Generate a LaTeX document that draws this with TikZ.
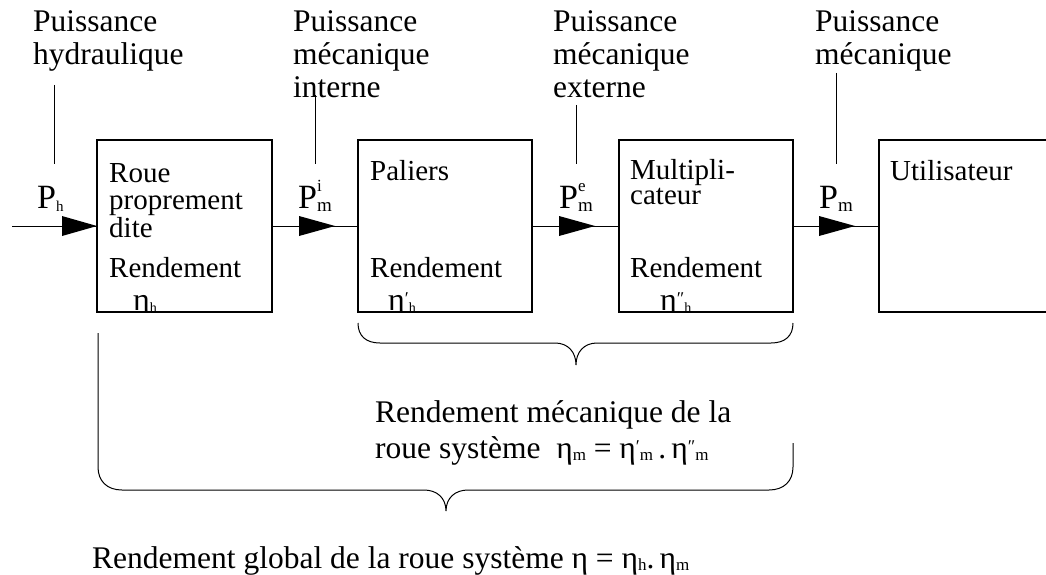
\documentclass[tikz,border=0pt]{standalone}
\usepackage{fontspec}
\setmainfont{Liberation Serif}
\usetikzlibrary{calc}
\newcommand\lsub[2][14]{\raisebox{-0.2ex}{\fontsize{#1}{#1}\selectfont #2}}
\newcommand\lsup[2][17]{\raisebox{1.05ex}{\fontsize{#1}{#1}\selectfont #2}}
\newcommand\lprime[2][18]{\raisebox{0.35ex}{\fontsize{#1}{#1}\selectfont #2}}
\begin{document}
\begin{tikzpicture}[x=1pt,y=-1pt,
  box/.style={draw,line width=1.2pt,minimum width=175pt,minimum height=172pt,inner sep=0pt,outer sep=0pt,anchor=north west},
  lbl/.style={anchor=base west,inner sep=0pt,font=\fontsize{31.5}{33}\selectfont},
  btxt/.style={anchor=base west,inner sep=0pt,font=\fontsize{29}{27.5}\selectfont},
  eta/.style={anchor=base west,inner sep=0pt,font=\fontsize{32}{32}\selectfont},
  plab/.style={anchor=base west,inner sep=0pt,font=\fontsize{34}{34}\selectfont},
  wire/.style={line width=1pt},
  head/.style={fill=black},
  brace/.style={line width=1pt},
]
\useasboundingbox (0,0) rectangle (1046,575);

% boxes
\node[box] (b1) at (97,140) {};
\node[box,minimum width=174pt] (b2) at (358,140) {};
\node[box,minimum width=174pt] (b3) at (619,140) {};
\node[anchor=north west,inner sep=0pt,outer sep=0pt,minimum width=167pt,minimum height=172pt] (b4) at (879,140) {};
\draw[line width=1.2pt] (b4.north east) -- (b4.north west) -- (b4.south west) -- (b4.south east);

% box texts
\node[btxt] (t1) at (109,182) {\vtop{\hbox{Roue}\hbox{proprement}\hbox{dite}}};
\node[btxt] (r1) at (109,277) {Rendement};
\node[btxt] (t2) at (370,180) {Paliers};
\node[btxt] (r2) at (370,277) {Rendement};
\node[btxt,font=\fontsize{29}{25}\selectfont] (t3) at (630,179) {\vtop{\hbox{Multipli-}\hbox{cateur}}};
\node[btxt] (r3) at (630,277) {Rendement};
\node[btxt] (t4) at (890,180) {Utilisateur};

\begin{scope}
\clip ($(b1.north west)+(0,1)$) rectangle ($(b3.south east)+(0,-1)$);
\node[eta] (e1) at (133,310) {η\lsub{h}};
\node[eta] (e2) at (388,310) {η\lprime{′}\lsub{h}};
\node[eta] (e3) at (660,310) {η\lprime{″}\lsub{h}};
\end{scope}

% outer labels
\node[lbl] (l1) at (33,32) {\vtop{\hbox{Puissance}\hbox{hydraulique}}};
\node[lbl] (l2) at (293,32) {\vtop{\hbox{Puissance}\hbox{mécanique}\hbox{interne}}};
\node[lbl] (l3) at (553,32) {\vtop{\hbox{Puissance}\hbox{mécanique}\hbox{externe}}};
\node[lbl] (l4) at (815,32) {\vtop{\hbox{Puissance}\hbox{mécanique}}};

% power symbols
\node[plab] (p1) at (37,208) {P\lsub[15]{h}};
\node[plab] (p2) at (298,208) {P\makebox[0pt][l]{\lsup{i}}\lsub[19]{m}};
\node[plab] (p3) at (559,208) {P\makebox[0pt][l]{\lsup{e}}\lsub[19]{m}};
\node[plab] (p4) at (819,208) {P\lsub[19]{m}};

% leader lines
\coordinate (c1a) at (54.5,85);  \coordinate (c1b) at (54.5,164);
\coordinate (c2a) at (315,95);   \coordinate (c2b) at (315,164);
\coordinate (c3a) at (576,105);  \coordinate (c3b) at (576,164);
\coordinate (c4a) at (836,73);   \coordinate (c4b) at (836,164);
\draw[wire] (c1a) -- (c1b);
\draw[wire] (c2a) -- (c2b);
\draw[wire] (c3a) -- (c3b);
\draw[wire] (c4a) -- (c4b);

% connectors
\coordinate (in) at (12,226);
\draw[wire] (in) -- (b1.west);
\draw[wire] (b1.east) -- (b2.west);
\draw[wire] (b2.east) -- (b3.west);
\draw[wire] (b3.east) -- (b4.west);
\fill[head] (b1.west) -- ++(-35,-10) -- ++(0,20) -- cycle;
\fill[head] ($(b2.west)+(-23,0)$) -- ++(-36,-10) -- ++(0,20) -- cycle;
\fill[head] ($(b3.west)+(-24,0)$) -- ++(-36,-10) -- ++(0,20) -- cycle;
\fill[head] ($(b4.west)+(-24,0)$) -- ++(-36,-10) -- ++(0,20) -- cycle;

% top brace
\draw[brace] (358,323) .. controls (358,336) and (366,343) .. (380,343) -- (555,343)
  .. controls (568,343) and (576,352) .. (576,365)
  .. controls (576,352) and (584,343) .. (597,343) -- (771,343)
  .. controls (785,343) and (793,336) .. (793,323);

% big brace
\draw[brace] (98,333) -- (98,467) .. controls (98,481) and (107,490) .. (122,490) -- (424,490)
  .. controls (437,490) and (446,498) .. (446,511)
  .. controls (446,498) and (455,490) .. (468,490) -- (769,490)
  .. controls (784,490) and (793,481) .. (793,467) -- (793,443);

% brace texts
\node[lbl,font=\fontsize{31.5}{36}\selectfont] (m1) at (375,422) {\vtop{\hbox{Rendement mécanique de la}\hbox{roue système\ \ η\lsub[17]{m} = η\lprime{′}\lsub[17]{m}\,.\,η\lprime{″}\lsub[17]{m}}}};
\node[lbl] (g1) at (92,568) {Rendement global de la roue système η = η\lsub[17]{h}.\,η\lsub[17]{m}};
\end{tikzpicture}
\end{document}
